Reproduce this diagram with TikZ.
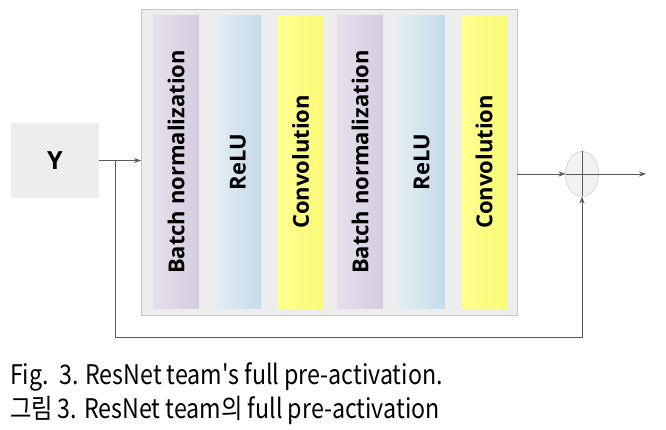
\documentclass[tikz,border=0pt]{standalone}
\usepackage{fontspec}
\usetikzlibrary{shapes.geometric,arrows.meta}
\newfontfamily\lblfont{Open Sans}
\newfontfamily\capfont[FakeStretch=0.86]{Noto Sans CJK KR}
\definecolor{bnleft}{HTML}{E6E0EC}
\definecolor{bnright}{HTML}{D4CCE0}
\definecolor{reluleft}{HTML}{E4EEF4}
\definecolor{reluright}{HTML}{C6DAE8}
\definecolor{convleft}{HTML}{FFFF90}
\definecolor{convright}{HTML}{FAFA78}
\begin{document}
\begin{tikzpicture}[
    x=1pt, y=-1pt,
    every node/.style={inner sep=0pt, outer sep=0pt},
    strip/.style={rectangle, minimum width=46pt, minimum height=293pt,
        font=\lblfont\bfseries\fontsize{22}{22}\selectfont},
    arr/.style={draw=black!65, line width=0.8pt, -{Stealth[length=7pt,width=5pt]}},
    line/.style={draw=black!65, line width=0.8pt}
]

\useasboundingbox (0,0) rectangle (666,430);

% ================= input and block =================

\node[rectangle, fill=black!7, minimum width=88pt, minimum height=75pt,
      font=\lblfont\bfseries\fontsize{25}{25}\selectfont] (yin) at (55,160.5) {Y};

\node[rectangle, fill=black!7, draw=black!22, line width=1pt,
      minimum width=376pt, minimum height=305pt] (block) at (329,162.5) {};

\node[strip, left color=bnleft, right color=bnright]     (bn1)   at (176,162)   {\rotatebox{90}{Batch normalization}};
\node[strip, left color=reluleft, right color=reluright] (relu1) at (238,162)   {\rotatebox{90}{ReLU}};
\node[strip, left color=convleft, right color=convright] (conv1) at (300.5,162) {\rotatebox{90}{Convolution}};
\node[strip, left color=bnleft, right color=bnright]     (bn2)   at (360,162)   {\rotatebox{90}{Batch normalization}};
\node[strip, left color=reluleft, right color=reluright] (relu2) at (421.5,162) {\rotatebox{90}{ReLU}};
\node[strip, left color=convleft, right color=convright] (conv2) at (484,162)   {\rotatebox{90}{Convolution}};

% ================= addition =================

\node[ellipse, draw=black!25, fill=black!5, minimum width=33pt, minimum height=45pt] (sum) at (582,174) {};
\draw[line] (sum.north)--(sum.south);
\draw[line] (sum.west)--(sum.east);

\coordinate (split) at (115,160.5);
\coordinate (low)   at (0,337);
\coordinate (out)   at (646,174);

\draw[arr] (yin.east |- split)--(block.west |- split);
\draw[arr] (block.east |- sum)--(sum.west);
\draw[arr] (sum.east)--(out);
\draw[arr] (split) |- (sum.south |- low)--(sum.south);

% ================= caption =================

\node[anchor=west, font=\capfont\fontsize{27}{27}\selectfont] (cap1) at (10,377) {Fig.\ \ 3. ResNet team's full pre-activation.};
\node[anchor=west, font=\capfont\fontsize{27}{27}\selectfont] (cap2) at (10,410) {그림 3. ResNet team의 full pre-activation};

\end{tikzpicture}
\end{document}
